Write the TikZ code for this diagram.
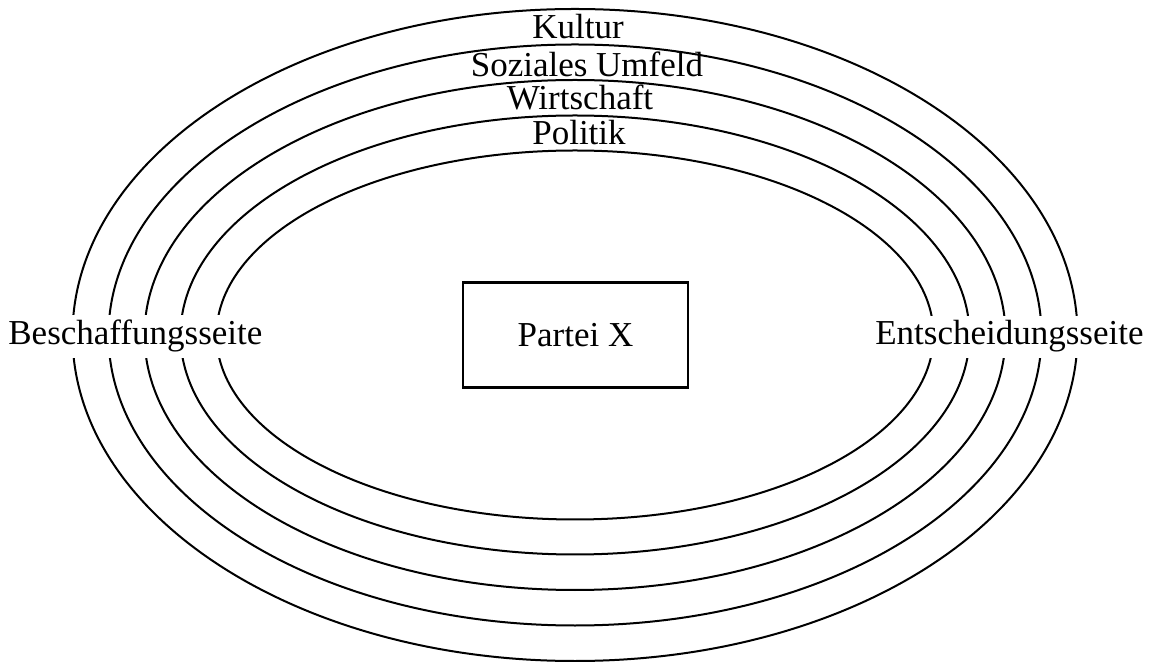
\documentclass[tikz,border=0pt]{standalone}
\usepackage{fontspec}
\setmainfont{Liberation Serif}
\usetikzlibrary{positioning}
\tikzset{ringline/.style={
        line width=1pt},
    beschriftung/.style={
        font=\fontsize{17.5}{21}\selectfont,
        inner sep=0pt},
    seite/.style={
        beschriftung,
        fill=white,
        inner ysep=2.5pt},
    parteibox/.style={
        beschriftung,
        draw,
        line width=1.2pt,
        minimum width=112.5pt,
        minimum height=52.5pt}}

\begin{document}
\begin{tikzpicture}[x=0.5pt,y=0.5pt]
        \useasboundingbox (-575,-327) rectangle (574,335);
        
        \draw[ringline] (0,0) ellipse [x radius=502.5, y radius=326];
        \draw[ringline] (0,0) ellipse [x radius=466.5, y radius=290.5];
        \draw[ringline] (0,0) ellipse [x radius=430.5, y radius=255];
        \draw[ringline] (0,0) ellipse [x radius=394.5, y radius=219.5];
        \draw[ringline] (0,0) ellipse [x radius=358.5, y radius=184.5];
        
        \node[beschriftung,anchor=base] (kultur) at (3,296) {Kultur};
        \node[beschriftung,anchor=base] (sozial) at (12,258) {Soziales Umfeld};
        \node[beschriftung,anchor=base] (wirtschaft) at (5,225) {Wirtschaft};
        \node[beschriftung,anchor=base] (politik) at (4,190) {Politik};
        
        \node[seite,anchor=base west] (beschaffung) at (-567,-10) {Beschaffungsseite};
        \node[seite,anchor=base east] (entscheidung) at (569,-10) {Entscheidungsseite};
        \node[parteibox] (partei) at (0.5,0) {Partei X};
    \end{tikzpicture}
\end{document}
